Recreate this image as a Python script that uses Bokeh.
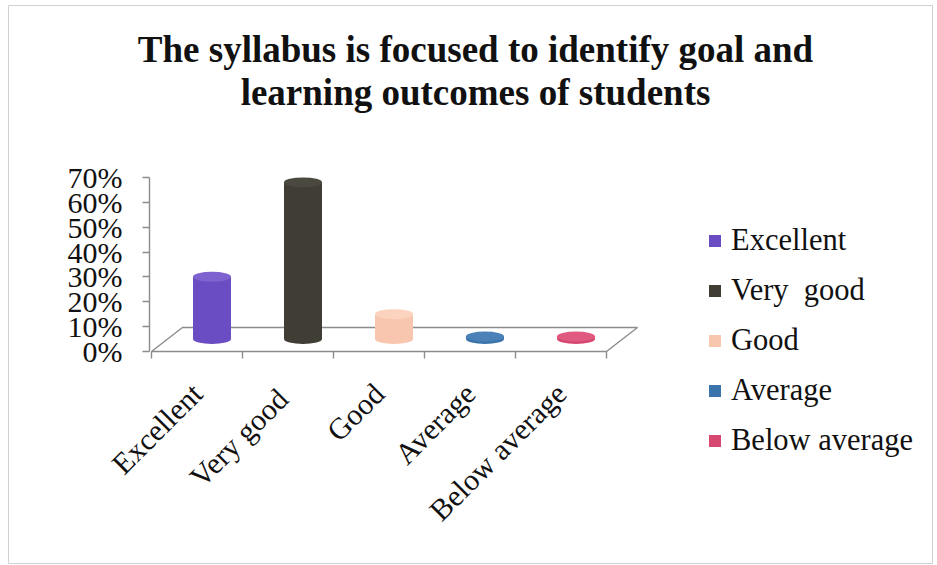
import math
from bokeh.plotting import figure
from bokeh.models import Range1d, LinearAxis, FixedTicker, Label, ColumnDataSource
from bokeh.embed import file_html
from bokeh.resources import INLINE

# ---------------- data ----------------
TITLE_LINES = ["The syllabus is focused to identify goal and",
               "learning outcomes of students"]
CATEGORIES = ["Excellent", "Very  good", "Good", "Average", "Below average"]
VALUES = [25, 63, 10, 1, 1]
Y_TICKS = [0, 10, 20, 30, 40, 50, 60, 70]
Y_TICK_LABELS = ["0%", "10%", "20%", "30%", "40%", "50%", "60%", "70%"]

# ---------------- styles ----------------
BODY_COLORS = ["#6a4cc3", "#3f3d34", "#f8c6ae", "#3b73ab", "#d6486f"]
TOP_COLORS = ["#7d62d0", "#4b493f", "#fbd3bf", "#4a82b8", "#e05a80"]
FONT = "Liberation Serif"
GREY = "#8c8c8c"

# ---------------- layout (page pixels) ----------------
W, H = 937, 565
FL, FT, FR, FB = 8, 5, 932, 563  # frame (chart-area border) edges
PPX = 91.0                      # px per category
PPY = 174.0 / 70.0              # px per percent
X0_PX = 151                     # px of x=0.5 (floor front-left corner)
Y0_PX = 351                     # px of y=0 (floor front edge)
YAXIS_PX = 149                  # px of value axis line
BAR_DX, BAR_DY = 15, 12.5       # bar plane offset (px)
BACK_DX, BACK_DY = 31, 24       # floor depth offset (px)
BAR_W_PX, ELL_H_PX = 38, 10

n = len(CATEGORIES)
xs = 0.5 - (X0_PX - FL) / PPX
xe = xs + (FR - FL) / PPX
ys = -(FB - Y0_PX) / PPY
ye = (Y0_PX - FT) / PPY

p = figure(width=W, height=H, output_backend="svg", toolbar_location=None,
           x_range=Range1d(xs, xe), y_range=Range1d(ys, ye),
           x_axis_type=None, y_axis_type=None,
           min_border_left=FL, min_border_top=FT,
           min_border_right=W - FR, min_border_bottom=H - FB)
p.outline_line_color = "#d0d0d0"
p.outline_line_width = 1
p.background_fill_color = "white"
p.border_fill_color = "white"

dxu, dyu = BAR_DX / PPX, BAR_DY / PPY
p.extra_x_ranges = {"bar": Range1d(xs - dxu, xe - dxu)}
p.extra_y_ranges = {"bar": Range1d(ys - dyu, ye - dyu)}

# floor
bx, by = BACK_DX / PPX, BACK_DY / PPY
p.patch([0.5, n + 0.5, n + 0.5 + bx, 0.5 + bx], [0, 0, by, by],
        fill_color="white", line_color=GREY, line_width=1.4)

# axes
yaxis = LinearAxis(ticker=FixedTicker(ticks=Y_TICKS, minor_ticks=[]),
                   bounds=(0, 70),
                   fixed_location=0.5 - (X0_PX - YAXIS_PX) / PPX,
                   major_label_overrides={t: l for t, l in zip(Y_TICKS, Y_TICK_LABELS)},
                   axis_line_color=GREY, axis_line_width=1.4,
                   major_tick_line_color=GREY, major_tick_out=7, major_tick_in=0,
                   major_tick_line_width=1.4,
                   minor_tick_line_color=None,
                   major_label_standoff=20,
                   major_label_text_font=FONT, major_label_text_font_size="30px",
                   major_label_text_color="#111111")
p.add_layout(yaxis, "left")

centers = list(range(1, n + 1))
bounds_ = [i + 0.5 for i in range(0, n + 1)]
xaxis = LinearAxis(ticker=FixedTicker(ticks=centers, minor_ticks=bounds_),
                   fixed_location=0,
                   major_label_overrides={c: cat for c, cat in zip(centers, CATEGORIES)},
                   major_label_orientation=math.pi / 4,
                   axis_line_color=None,
                   major_tick_line_color=None, major_tick_out=0, major_tick_in=0,
                   minor_tick_line_color=GREY, minor_tick_out=7, minor_tick_in=0,
                   minor_tick_line_width=1.4,
                   major_label_standoff=30,
                   major_label_text_font=FONT, major_label_text_font_size="30px",
                   major_label_text_color="#111111")
p.add_layout(xaxis, "below")

# cylinders
src = ColumnDataSource(dict(x=centers, v=VALUES, cat=CATEGORIES,
                            color=BODY_COLORS, top=TOP_COLORS))
p.ellipse(x="x", y=0, width=BAR_W_PX, height=ELL_H_PX,
          width_units="screen", height_units="screen",
          fill_color="color", line_color=None, source=src,
          x_range_name="bar", y_range_name="bar")
p.vbar(x="x", bottom=0, top="v", width=BAR_W_PX / PPX, source=src,
       fill_color="color", line_color=None,
       x_range_name="bar", y_range_name="bar", legend_field="cat")
p.ellipse(x="x", y="v", width=BAR_W_PX, height=ELL_H_PX,
          width_units="screen", height_units="screen",
          fill_color="top", line_color=None, source=src,
          x_range_name="bar", y_range_name="bar")

# legend
lg = p.legend[0]
lg.location = (707 - FL, FB - 458)
lg.label_text_font = FONT
lg.label_text_font_size = "30.5px"
lg.label_text_color = "#111111"
lg.glyph_width = 15
lg.glyph_height = 15
lg.label_standoff = 9
lg.label_height = 30
lg.spacing = 15
lg.padding = 0
lg.margin = 0
lg.border_line_color = None
lg.background_fill_alpha = 0

# title (two centred lines)
for line, cy in zip(TITLE_LINES, [49, 92]):
    p.add_layout(Label(x=475 - FL, y=FB - cy, x_units="screen", y_units="screen",
                       text=line, text_align="center", text_baseline="middle",
                       text_font=FONT, text_font_size="37px",
                       text_font_style="bold", text_color="#111111"))

open("out.html", "w").write(file_html(p, INLINE))
